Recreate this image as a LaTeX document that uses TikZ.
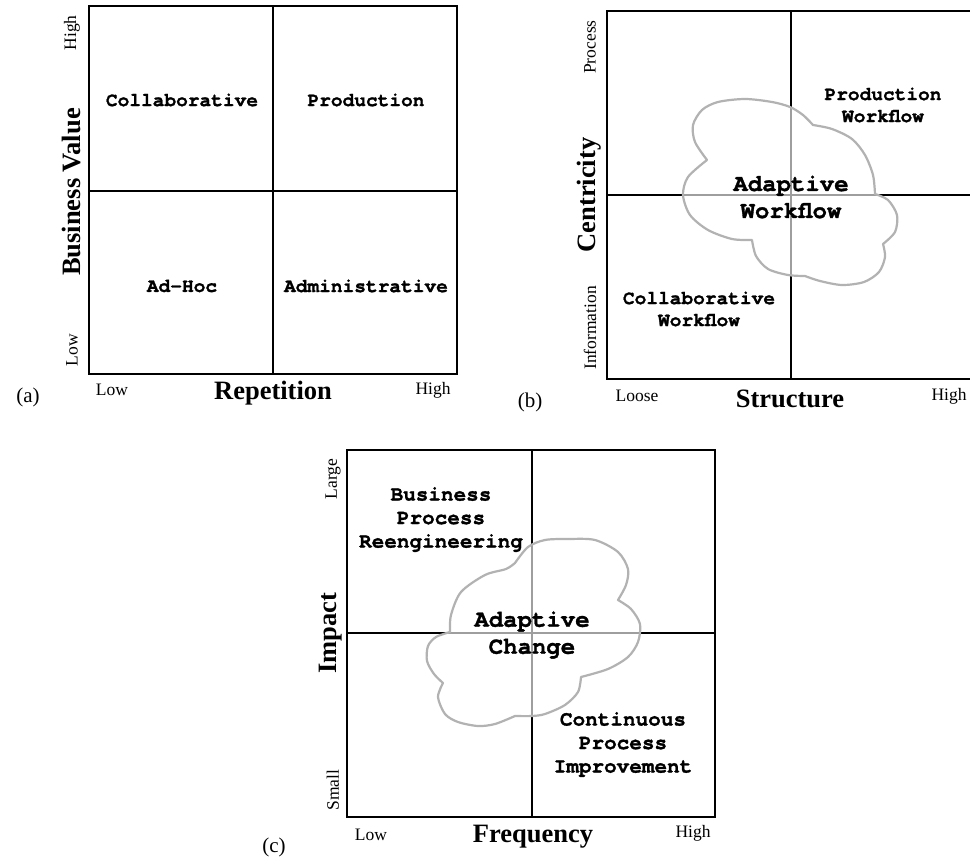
\documentclass[tikz,border=0pt]{standalone}
\usepackage{fontspec}
\setmainfont{Liberation Serif}
\setmonofont[BoldFeatures={FakeBold=1.3}]{TeX Gyre Cursor}
\begin{document}
\begin{tikzpicture}[x=1pt,y=-1pt,
 frame/.style={line width=1.8pt, black},
 gridline/.style={line width=1.6pt, black},
 quad/.style={font=\fontsize{19.5}{22}\selectfont\ttfamily\bfseries, align=center, inner sep=0pt},
 quadc/.style={font=\fontsize{21}{23.5}\selectfont\ttfamily\bfseries, align=center, inner sep=0pt},
 bigq/.style={font=\fontsize{24}{27}\selectfont\ttfamily\bfseries, align=center, inner sep=0pt},
 axislab/.style={font=\fontsize{26.5}{30}\selectfont\bfseries, inner sep=0pt},
 ticklab/.style={font=\fontsize{17.5}{20}\selectfont, inner sep=0pt},
 panellab/.style={font=\fontsize{21}{24}\selectfont, inner sep=0pt},
 cloudshape/.style={draw=black!30, line width=2.2pt, fill=white, fill opacity=0.62, line join=round}]
\fill[white] (0,0) rectangle (970,859);
\useasboundingbox (0,0) rectangle (970,859);

% ---------------- panel (a)
\draw[frame] (89,6) rectangle (457,374);
\draw[gridline] (273,6) -- (273,374);
\draw[gridline] (89,191) -- (457,191);
\node[quad] (a-col) at (182,100) {Collaborative};
\node[quad] (a-pro) at (366,100) {Production};
\node[quad] (a-adh) at (182,286) {Ad-Hoc};
\node[quad] (a-adm) at (366,286) {Administrative};
\node[ticklab, rotate=90] (a-yhigh) at (72,33) {High};
\node[axislab, rotate=90] (a-yax) at (72,192) {Business Value};
\node[ticklab, rotate=90] (a-ylow) at (72,350) {Low};
\node[ticklab] (a-xlow) at (112,390) {Low};
\node[axislab] (a-xax) at (273,393) {Repetition};
\node[ticklab] (a-xhigh) at (433,390) {High};
\node[panellab] (a-lab) at (28,397) {(a)};

% ---------------- panel (b)
\draw[frame] (970,11) -- (607,11) -- (607,379) -- (970,379);
\draw[gridline] (791,11) -- (791,379);
\draw[gridline] (607,195) -- (970,195);
\path[cloudshape]
  plot[smooth] coordinates {(707,160) (695,142) (693,125) (702,110) (718,102) (745,99) (772,102) (790,107) (803,115) (813,125)}
  -- plot[smooth] coordinates {(813,125) (832,129) (852,139) (865,155) (873,175) (875,194)}
  -- plot[smooth] coordinates {(875,194) (888,200) (897,215) (895,232) (883,244)}
  -- plot[smooth] coordinates {(883,244) (885,257) (879,272) (864,282) (842,285) (820,281) (805,276)}
  -- plot[smooth] coordinates {(805,276) (788,275) (768,269) (756,256) (752,240)}
  -- plot[smooth] coordinates {(752,240) (732,239) (708,230) (690,215) (683,195) (688,177) (707,160)}
  -- cycle;
\node[quad] (b-pro) at (883,105) {Production\\Workflow};
\node[bigq] (b-ada) at (791,197) {Adaptive\\Workflow};
\node[quad] (b-col) at (699,309) {Collaborative\\Workflow};
\node[ticklab, rotate=90] (b-yhigh) at (590,47) {Process};
\node[axislab, rotate=90] (b-yax) at (589,195) {Centricity};
\node[ticklab, rotate=90] (b-ylow) at (590,328) {Information};
\node[ticklab] (b-xlow) at (637,396) {Loose};
\node[axislab] (b-xax) at (790,399) {Structure};
\node[ticklab] (b-xhigh) at (949,396) {High};
\node[panellab] (b-lab) at (530,402) {(b)};

% ---------------- panel (c)
\draw[frame] (347,450) rectangle (715,817);
\draw[gridline] (532,450) -- (532,817);
\draw[gridline] (347,633) -- (715,633);
\path[cloudshape]
  plot[smooth] coordinates {(450,632) (451,615) (461,592) (485,575) (506,569) (515,563)}
  -- plot[smooth] coordinates {(515,563) (528,547) (545,540) (568,539) (595,540) (618,552) (628,569) (626,585) (618,600)}
  -- plot[smooth] coordinates {(618,600) (631,609) (640,624) (638,642) (628,657) (608,669) (581,677)}
  -- plot[smooth] coordinates {(581,677) (578,692) (565,705) (545,714) (532,716) (515,716)}
  -- plot[smooth] coordinates {(515,716) (495,724) (478,726) (458,722) (445,714) (438,697) (443,683)}
  -- plot[smooth] coordinates {(443,683) (434,674) (427,661) (428,646) (436,637) (450,632)}
  -- cycle;
\node[quadc] (c-bpr) at (441,519.5) {Business\\Process\\Reengineering};
\node[bigq] (c-ada) at (532,635) {Adaptive\\Change};
\node[quadc] (c-cpi) at (623,744.5) {Continuous\\Process\\Improvement};
\node[ticklab, rotate=90] (c-yhigh) at (333,479) {Large};
\node[axislab, rotate=90] (c-yax) at (331,633) {Impact};
\node[ticklab, rotate=90] (c-ylow) at (333,790) {Small};
\node[ticklab] (c-xlow) at (371,835) {Low};
\node[axislab] (c-xax) at (533,837) {Frequency};
\node[ticklab] (c-xhigh) at (693,833) {High};
\node[panellab] (c-lab) at (274,847) {(c)};
\end{tikzpicture}
\end{document}
